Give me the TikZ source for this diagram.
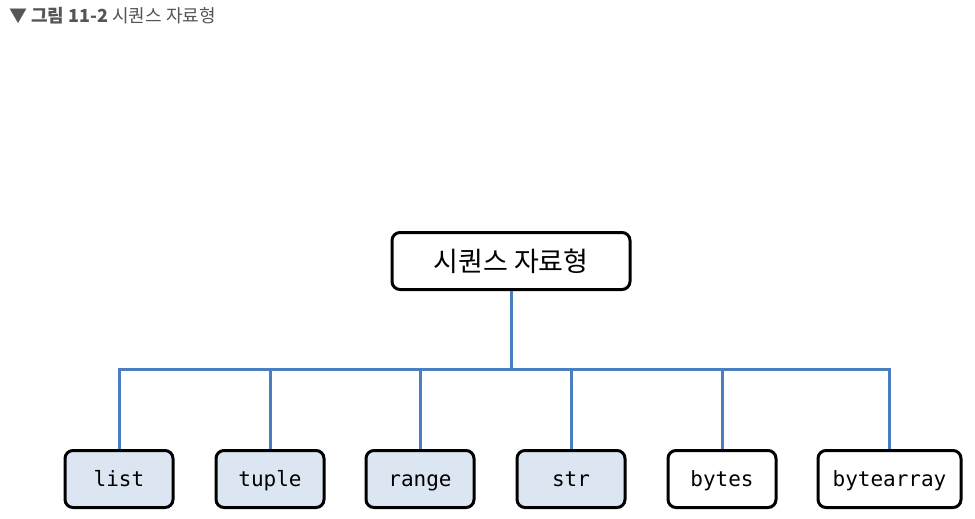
\documentclass[tikz,border=0pt]{standalone}
\usepackage{fontspec}
\newfontfamily\kr{Noto Sans CJK KR}
\newfontfamily\mono{DejaVu Sans Mono}
\definecolor{linkblue}{HTML}{4A7EC0}
\definecolor{boxfill}{HTML}{DCE6F2}
\definecolor{capgray}{HTML}{555555}
\begin{document}
\begin{tikzpicture}[x=1pt,y=-1pt,
  box/.style={draw=black, line width=3pt, rounded corners=8pt, minimum height=57pt, inner sep=0pt},
  seqbox/.style={box, fill=boxfill, minimum width=108pt, font=\mono\fontsize{21}{25}\selectfont, text height=17pt, text depth=2pt},
  plainbox/.style={seqbox, fill=white},
  link/.style={draw=linkblue, line width=3pt}]
\useasboundingbox (0,0) rectangle (975,519);
\node[anchor=west, text=capgray, inner sep=0pt, font=\kr\fontsize{18}{21}\selectfont] (cap) at (9,16) {\textbf{▼ 그림 11-2} 시퀀스 자료형};
\node[box, fill=white, minimum width=238pt, font=\kr\fontsize{27}{32}\selectfont] (root) at (511,261) {시퀀스 자료형};
\node[seqbox] (list) at (119,479) {list};
\node[seqbox] (tuple) at (270,479) {tuple};
\node[seqbox] (range) at (420,479) {range};
\node[seqbox] (str) at (571,479) {str};
\node[plainbox] (bytes) at (722,479) {bytes};
\node[plainbox, minimum width=143pt] (bytearray) at (889.5,479) {bytearray};
\coordinate (hub) at (511,369);
\coordinate (hl) at (119,369);
\coordinate (hr) at (889.5,369);
\draw[link] (root.south) -- (hub);
\draw[link, line cap=rect] (hl) -- (hr);
\foreach \n in {list,tuple,range,str,bytes,bytearray}{
  \draw[link] (\n.north |- hub) -- (\n.north);
}
\end{tikzpicture}
\end{document}
